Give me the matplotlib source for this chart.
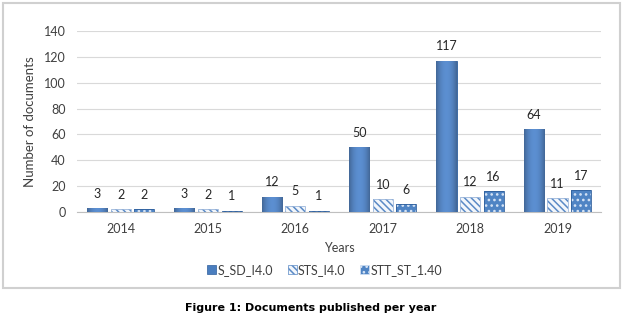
import matplotlib.pyplot as plt
import numpy as np
from matplotlib.patches import Rectangle

years = ['2014', '2015', '2016', '2017', '2018', '2019']
s_sd = [3, 3, 12, 50, 117, 64]
sts = [2, 2, 5, 10, 12, 11]
stt = [2, 1, 1, 6, 16, 17]
labels = ['S_SD_I4.0', 'STS_I4.0', 'STT_ST_1.40']

plt.rcParams['font.family'] = ['Lato', 'DejaVu Sans']
plt.rcParams['hatch.linewidth'] = 1.1

blue = '#4a7ebf'
dark = '#2f5f9c'

fig = plt.figure(figsize=(6.27, 3.17), dpi=100)
ax = fig.add_axes([0.1228, 0.331, 0.836, 0.571])

x = np.arange(len(years))
w = 0.23
step = 0.27

# gradient image for the solid bars
grad = np.linspace(-1, 1, 64)
shade = 1 - 0.28 * np.abs(grad) ** 2
light = np.array([0.36, 0.56, 0.82])
img = (light[None, :] * shade[:, None])[None, :, :]

def shaded(bars):
    for b in bars:
        x0, y0 = b.get_x(), b.get_y()
        im = ax.imshow(img, extent=[x0, x0 + b.get_width(), y0, y0 + b.get_height()],
                       aspect='auto', zorder=3, interpolation='bilinear')
        im.set_clip_path(b)

b1 = ax.bar(x - step, s_sd, w, color=blue, edgecolor=dark, linewidth=0.6, zorder=3, label=labels[0])
shaded(b1)
b2 = ax.bar(x, sts, w, color='#f2f6fb', edgecolor='#5b8ac6', hatch='\\\\\\\\\\', linewidth=0, zorder=3)
ax.bar(x, sts, w, color='none', edgecolor='#9db7db', linewidth=0.6, zorder=4)
b3 = ax.bar(x + step, stt, w, color='#4f84c4', edgecolor='#d5e3f5', hatch='...', linewidth=0, zorder=3)
ax.bar(x + step, stt, w, color='none', edgecolor=dark, linewidth=0.6, zorder=4)

for off, vals in [(-step, s_sd), (0, sts), (step, stt)]:
    for xi, v in zip(x, vals):
        ax.annotate(str(v), (xi + off, v), xytext=(0, 6), textcoords='offset points',
                    ha='center', va='bottom', fontsize=9, color='#262626')

ax.set_ylim(0, 140)
ax.set_xlim(-0.5, len(years) - 0.5)
ax.set_yticks(range(0, 141, 20))
ax.set_xticks(x)
ax.set_xticklabels(years)
ax.tick_params(length=0, labelsize=9, colors='#404040')
ax.tick_params(axis='x', pad=8)
ax.tick_params(axis='y', pad=8)
ax.grid(axis='y', color='#d9d9d9', linewidth=0.8, zorder=0)
for s in ['top', 'right', 'left']:
    ax.spines[s].set_visible(False)
ax.spines['bottom'].set_color('#bfbfbf')
ax.set_ylabel('Number of documents', fontsize=9.5, color='#404040', labelpad=6)
ax.set_xlabel('Years', fontsize=9, color='#404040', labelpad=5)

handles = [Rectangle((0, 0), 1, 1, facecolor=blue, edgecolor=dark, linewidth=0.5),
           Rectangle((0, 0), 1, 1, facecolor='#f2f6fb', edgecolor='#5b8ac6', hatch='\\\\\\\\\\', linewidth=0.5),
           Rectangle((0, 0), 1, 1, facecolor='#4f84c4', edgecolor='#d5e3f5', hatch='...', linewidth=0.5)]
fig.legend(handles, labels, loc='center', bbox_to_anchor=(0.518, 0.148), ncol=3, frameon=False,
           fontsize=9, handlelength=0.7, handleheight=0.7, handletextpad=0.1, columnspacing=1.2,
           labelcolor='#404040')

# outer chart frame
fig.patches.append(Rectangle((3 / 627, 1 - 288 / 317), 617 / 627, 285 / 317, transform=fig.transFigure,
                             fill=False, edgecolor='#d0d0d0', linewidth=1.5))

fig.text(0.495, 1 - 308 / 317, 'Figure 1: Documents published per year', ha='center', va='center',
         fontsize=8, fontweight='bold', family=['DejaVu Sans'])

fig.savefig('out.png', dpi=100)
